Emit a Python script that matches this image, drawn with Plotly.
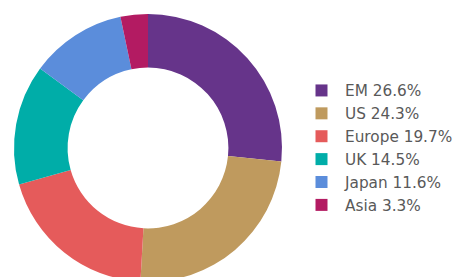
import plotly.graph_objects as go

regions = ["EM", "US", "Europe", "UK", "Japan", "Asia"]
weights = [26.6, 24.3, 19.7, 14.5, 11.6, 3.3]
colors = ["#66348A", "#BF9A5E", "#E55B5B", "#00ADA8", "#5B8DDB", "#B31B62"]
labels = [f"{r} {w}%" for r, w in zip(regions, weights)]

W, H = 458, 296
cx, cy, r = 148, 148, 134

fig = go.Figure(go.Pie(
    labels=labels,
    values=weights,
    marker=dict(colors=colors, line=dict(width=0)),
    hole=0.6,
    sort=False,
    direction="clockwise",
    rotation=0,
    textinfo="none",
    hoverinfo="label",
    domain=dict(x=[(cx - r) / W, (cx + r) / W], y=[(H - cy - r) / H, (H - cy + r) / H]),
))

fig.update_layout(
    width=W, height=H,
    autosize=False,
    margin=dict(l=0, r=0, t=0, b=0),
    paper_bgcolor="white",
    plot_bgcolor="white",
    showlegend=True,
    font=dict(family="DejaVu Sans", color="#595959"),
    legend=dict(
        x=298 / W, xanchor="left",
        y=0.5, yanchor="middle",
        font=dict(size=15.3, color="#595959", family="DejaVu Sans"),
        bgcolor="rgba(0,0,0,0)",
        itemwidth=37,
    ),
)

fig.write_html(
    "out.html",
    config={"displayModeBar": False},
    post_script="document.body.style.margin='0';document.body.style.overflow='hidden';",
)
